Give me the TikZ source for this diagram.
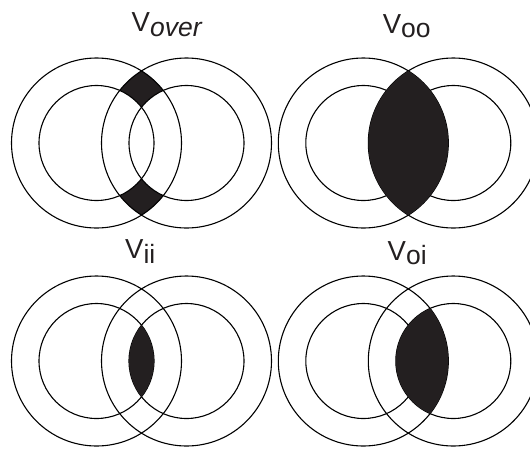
\documentclass[tikz,border=0pt]{standalone}
\usepackage{fontspec}
\newfontfamily\lblfont{Liberation Sans}
\usetikzlibrary{positioning}
\definecolor{ink}{HTML}{231F20}
\newcommand{\vlbl}[1]{\lblfont\fontsize{27.5}{27.5}\selectfont V\raisebox{-4.5pt}{\fontsize{26.5}{26.5}\selectfont #1}}

\begin{document}
\begin{tikzpicture}[
    x=1pt, y=-1pt,
    ring/.style={draw=black, line width=1.1pt},
    blk/.style={fill=ink},
    lbl/.style={anchor=base west, inner sep=0pt, text=ink},
  ]
  \useasboundingbox (0,0) rectangle (530,448);
  % ===== circle centres =====
  \coordinate (aL) at (96.5,143);  \coordinate (aR) at (186.5,143);
  \coordinate (bL) at (363.3,143); \coordinate (bR) at (453.3,143);
  \coordinate (cL) at (96.5,361);  \coordinate (cR) at (186.5,361);
  \coordinate (dL) at (363.3,361); \coordinate (dR) at (453.3,361);

  % ===== V_over: outer lens minus both inner discs =====
  \begin{scope}
    \clip (aL) circle[radius=85];
    \clip (aR) circle[radius=85];
    \fill[blk] (0,0) rectangle (265,230);
    \fill[white] (aL) circle[radius=57.5] (aR) circle[radius=57.5];
  \end{scope}

  % ===== rings =====
  \foreach \c in {aL,aR,bL,bR,cL,cR,dL,dR}
    \draw[ring] (\c) circle[radius=85] (\c) circle[radius=57.5];

  % ===== V_oo: outer lens =====
  \begin{scope}
    \clip (bL) circle[radius=85];
    \fill[blk] (bR) circle[radius=85];
  \end{scope}
  % ===== V_ii: inner lens =====
  \begin{scope}
    \clip (cL) circle[radius=57.5];
    \fill[blk] (cR) circle[radius=57.5];
  \end{scope}
  % ===== V_oi: left outer with right inner =====
  \begin{scope}
    \clip (dL) circle[radius=85];
    \fill[blk] (dR) circle[radius=57.5];
  \end{scope}

  % ===== labels =====
  \node[lbl] (tover) at (131.5,31.7) {\vlbl{\itshape over}};
  \node[lbl] (too)   at (382.7,33.3) {\vlbl{oo}};
  \node[lbl] (tii)   at (125,258.7)  {\vlbl{ii}};
  \node[lbl] (toi)   at (387.5,260.3) {\vlbl{oi}};
\end{tikzpicture}
\end{document}
